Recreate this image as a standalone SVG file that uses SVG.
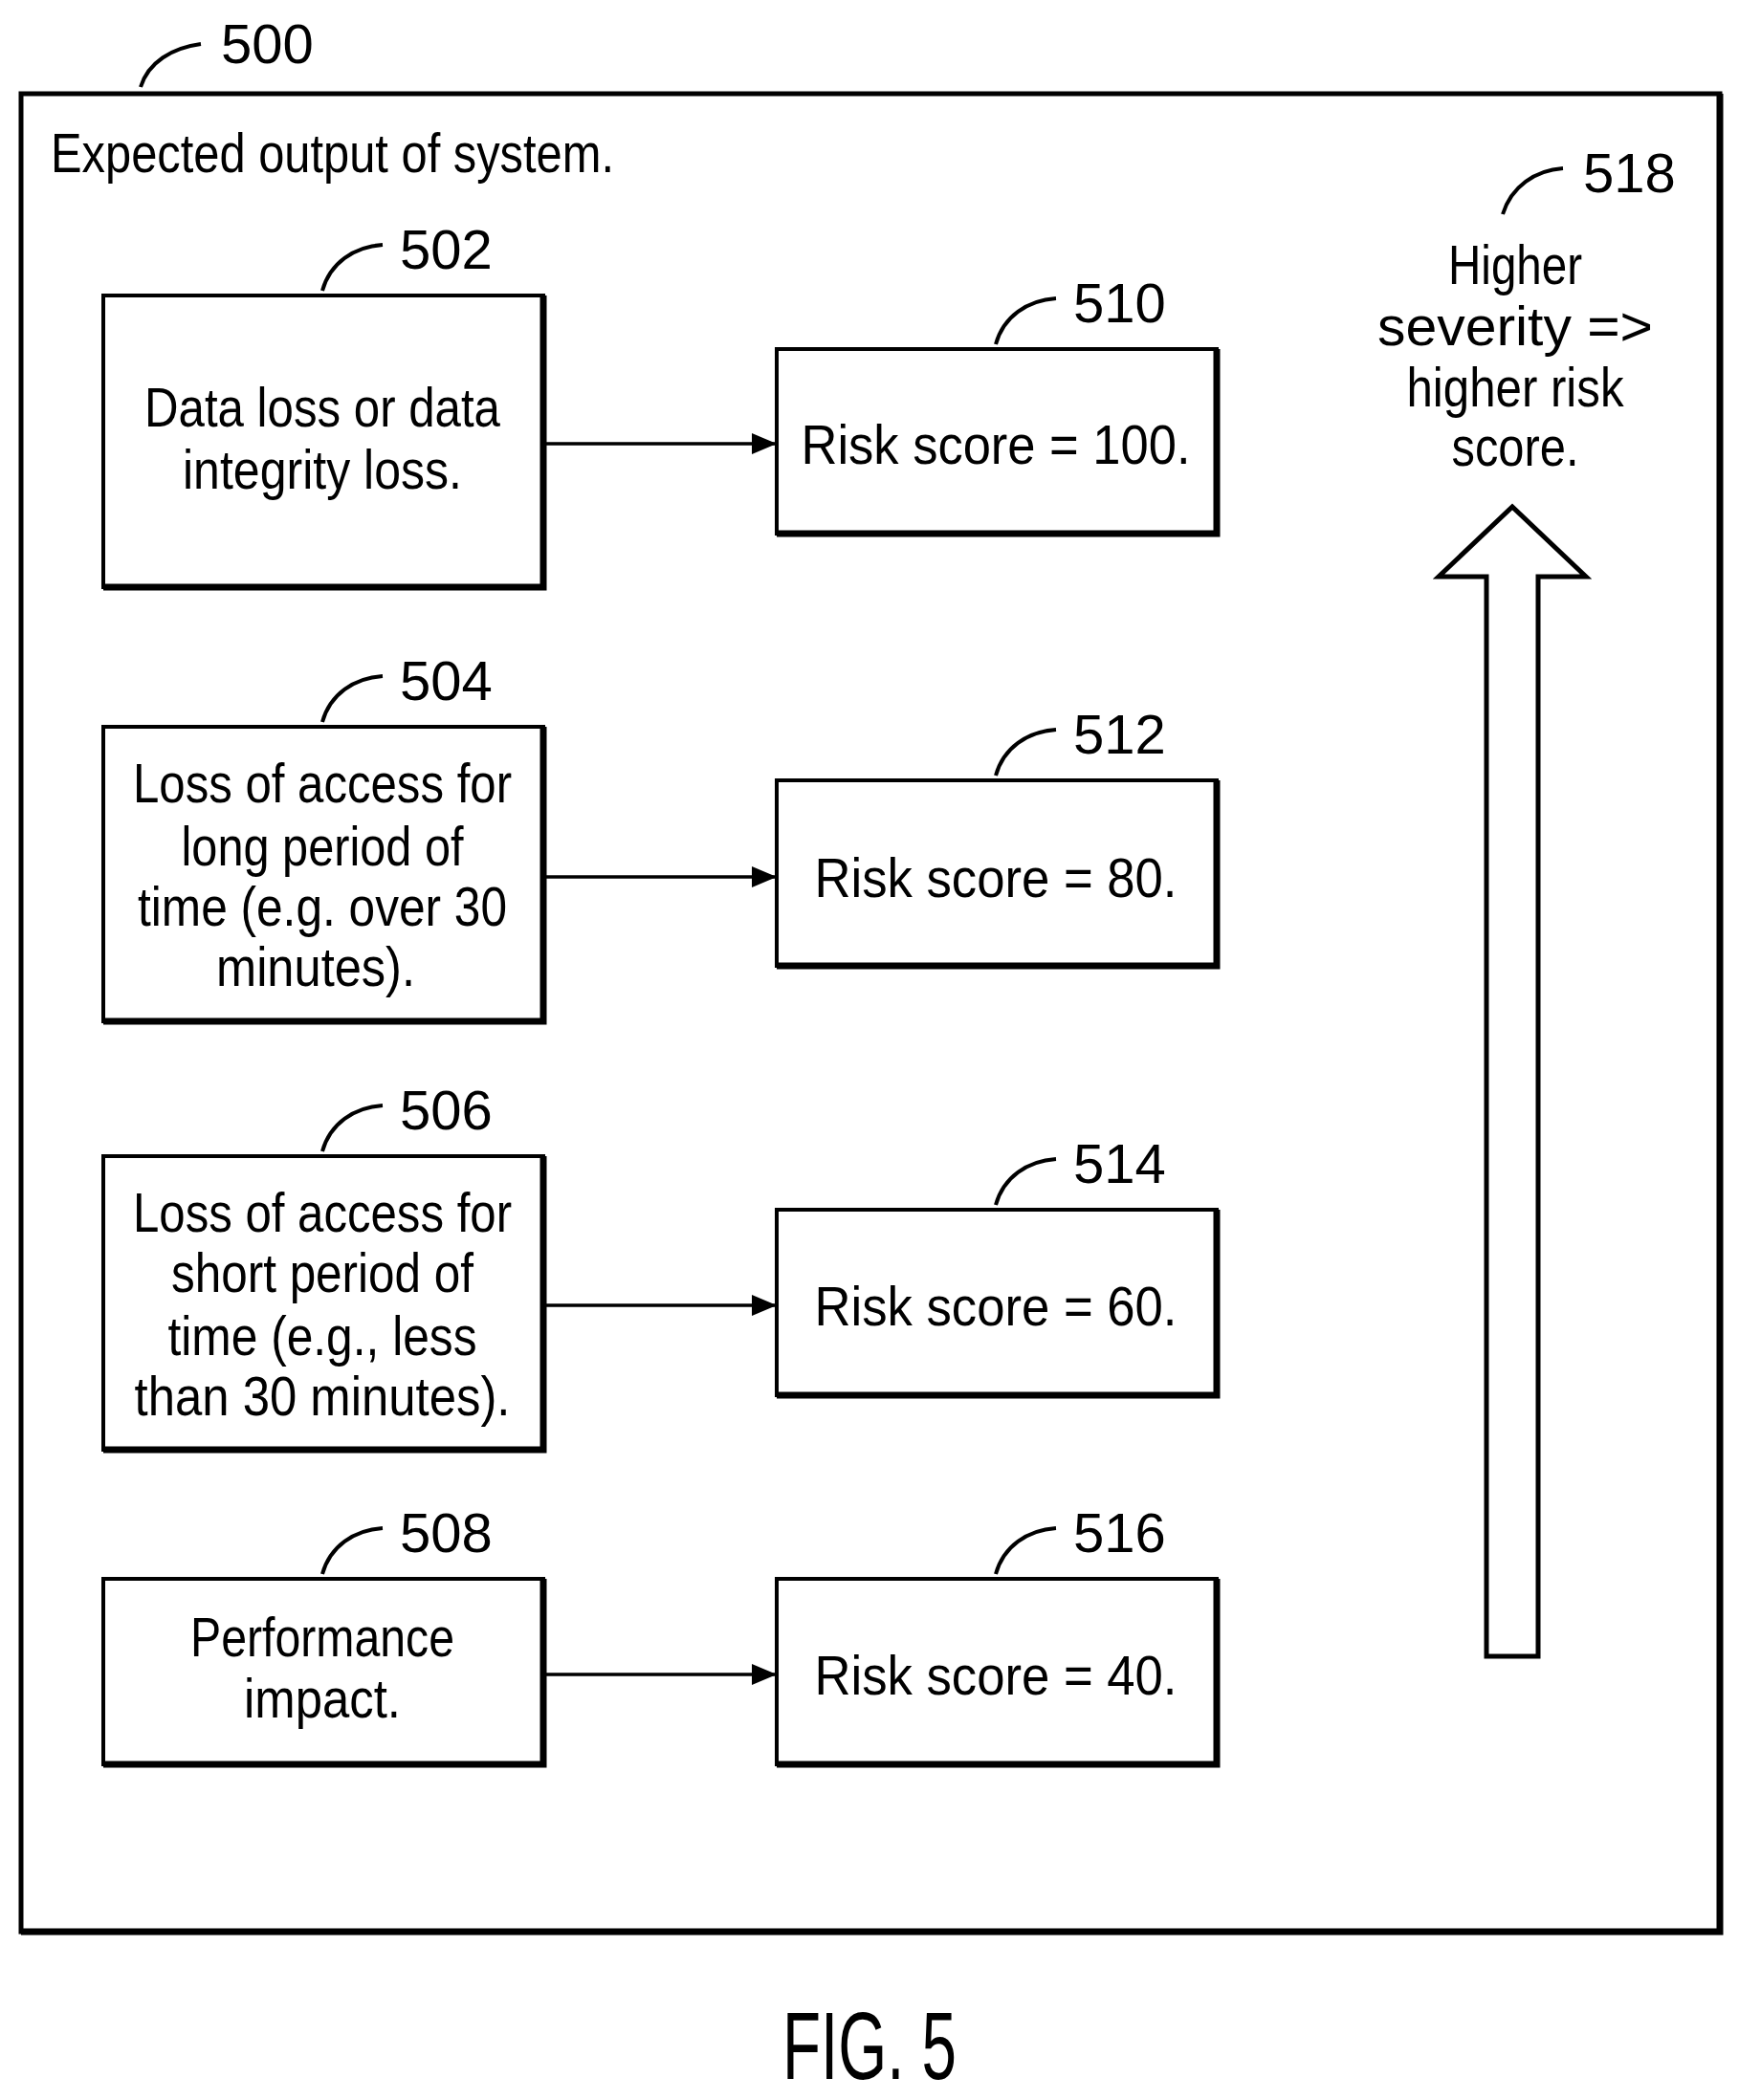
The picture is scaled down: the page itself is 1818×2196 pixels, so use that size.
<svg xmlns="http://www.w3.org/2000/svg" width="1818" height="2196" viewBox="0 0 1818 2196">
<style>
text{font-family:"Liberation Sans",Arial,sans-serif;font-size:58px;fill:#000}
.c{text-anchor:middle}
.box{fill:#fff;stroke:#000;stroke-width:4}
.sh{stroke:#000;stroke-width:7;fill:none}
.ld{fill:none;stroke:#000;stroke-width:4}
.cn{stroke:#000;stroke-width:3.5;fill:none}
</style>
<defs>
<marker id="ah" markerWidth="10" markerHeight="10" refX="9" refY="5" orient="auto" markerUnits="userSpaceOnUse" viewBox="0 0 10 10">
<path d="M0,0 L10,5 L0,10 Z" fill="#000"/>
</marker>
<marker id="a" markerWidth="26" markerHeight="26" refX="24" refY="13" orient="auto" markerUnits="userSpaceOnUse"><path d="M0,2 L26,13 L0,24 Z" fill="#000"/></marker>
</defs>
<rect x="22" y="98" width="1776" height="1922" fill="#fff" stroke="#000" stroke-width="5"/>
<path class="sh" d="M1798,98 V2020 H22"/>
<g id="n500"><path class="ld" d="M147,91 C155,65 180,50 210,46"/><text x="231" y="66">500</text></g>
<text x="53" y="180" textLength="589" lengthAdjust="spacingAndGlyphs">Expected output of system.</text>

<g id="n502"><rect class="box" x="108" y="309" width="460" height="305"/><path class="sh" d="M568,309 V614 H108"/>
<path class="ld" d="M337,304 C345,275 370,258 400,256"/><text x="418" y="281">502</text>
<text class="c" x="337" y="446" textLength="372" lengthAdjust="spacingAndGlyphs">Data loss or data</text>
<text class="c" x="337" y="511" textLength="292" lengthAdjust="spacingAndGlyphs">integrity loss.</text></g>

<g id="n510"><rect class="box" x="812" y="365" width="460" height="193"/><path class="sh" d="M1272,365 V558 H812"/>
<path class="ld" d="M1041,360 C1049,331 1074,314 1104,312"/><text x="1122" y="337">510</text>
<text class="c" x="1041" y="485" textLength="407" lengthAdjust="spacingAndGlyphs">Risk score = 100.</text></g>

<g id="n504"><rect class="box" x="108" y="760" width="460" height="308"/><path class="sh" d="M568,760 V1068 H108"/>
<path class="ld" d="M337,755 C345,726 370,709 400,707"/><text x="418" y="732">504</text>
<text class="c" x="337" y="839" textLength="396" lengthAdjust="spacingAndGlyphs">Loss of access for</text>
<text class="c" x="337" y="905" textLength="295" lengthAdjust="spacingAndGlyphs">long period of</text>
<text class="c" x="337" y="968" textLength="386" lengthAdjust="spacingAndGlyphs">time (e.g. over 30</text>
<text class="c" x="330" y="1031" textLength="208" lengthAdjust="spacingAndGlyphs">minutes).</text></g>

<g id="n512"><rect class="box" x="812" y="816" width="460" height="194"/><path class="sh" d="M1272,816 V1010 H812"/>
<path class="ld" d="M1041,811 C1049,782 1074,765 1104,763"/><text x="1122" y="788">512</text>
<text class="c" x="1041" y="938" textLength="379" lengthAdjust="spacingAndGlyphs">Risk score = 80.</text></g>

<g id="n506"><rect class="box" x="108" y="1209" width="460" height="307"/><path class="sh" d="M568,1209 V1516 H108"/>
<path class="ld" d="M337,1204 C345,1175 370,1158 400,1156"/><text x="418" y="1181">506</text>
<text class="c" x="337" y="1288" textLength="396" lengthAdjust="spacingAndGlyphs">Loss of access for</text>
<text class="c" x="337" y="1351" textLength="316" lengthAdjust="spacingAndGlyphs">short period of</text>
<text class="c" x="337" y="1417" textLength="323" lengthAdjust="spacingAndGlyphs">time (e.g., less</text>
<text class="c" x="337" y="1480" textLength="393" lengthAdjust="spacingAndGlyphs">than 30 minutes).</text></g>

<g id="n514"><rect class="box" x="812" y="1265" width="460" height="194"/><path class="sh" d="M1272,1265 V1459 H812"/>
<path class="ld" d="M1041,1260 C1049,1231 1074,1214 1104,1212"/><text x="1122" y="1237">514</text>
<text class="c" x="1041" y="1386" textLength="379" lengthAdjust="spacingAndGlyphs">Risk score = 60.</text></g>

<g id="n508"><rect class="box" x="108" y="1651" width="460" height="194"/><path class="sh" d="M568,1651 V1845 H108"/>
<path class="ld" d="M337,1646 C345,1617 370,1600 400,1598"/><text x="418" y="1623">508</text>
<text class="c" x="337" y="1732" textLength="276" lengthAdjust="spacingAndGlyphs">Performance</text>
<text class="c" x="337" y="1796" textLength="164" lengthAdjust="spacingAndGlyphs">impact.</text></g>

<g id="n516"><rect class="box" x="812" y="1651" width="460" height="194"/><path class="sh" d="M1272,1651 V1845 H812"/>
<path class="ld" d="M1041,1646 C1049,1617 1074,1600 1104,1598"/><text x="1122" y="1623">516</text>
<text class="c" x="1041" y="1772" textLength="379" lengthAdjust="spacingAndGlyphs">Risk score = 40.</text></g>

<g id="n518">
<path class="ld" d="M1571,224 C1580,195 1605,178 1634,176"/><text x="1655" y="201">518</text>
<text class="c" x="1584" y="297" textLength="140" lengthAdjust="spacingAndGlyphs">Higher</text>
<text class="c" x="1584" y="361" textLength="288" lengthAdjust="spacingAndGlyphs">severity =&gt;</text>
<text class="c" x="1584" y="425" textLength="227" lengthAdjust="spacingAndGlyphs">higher risk</text>
<text class="c" x="1584" y="487" textLength="133" lengthAdjust="spacingAndGlyphs">score.</text>
<path d="M1554,1732 V603 H1504 L1581,530 L1658,603 H1608 V1732 Z" fill="#fff" stroke="#000" stroke-width="5"/>
</g>

<g id="connectors">
<line class="cn" x1="570" y1="464" x2="810" y2="464" marker-end="url(#a)"/>
<line class="cn" x1="570" y1="917" x2="810" y2="917" marker-end="url(#a)"/>
<line class="cn" x1="570" y1="1365" x2="810" y2="1365" marker-end="url(#a)"/>
<line class="cn" x1="570" y1="1751" x2="810" y2="1751" marker-end="url(#a)"/>
</g>
<text class="c" x="909" y="2174" style="font-size:100px" textLength="182" lengthAdjust="spacingAndGlyphs">FIG. 5</text>
</svg>
